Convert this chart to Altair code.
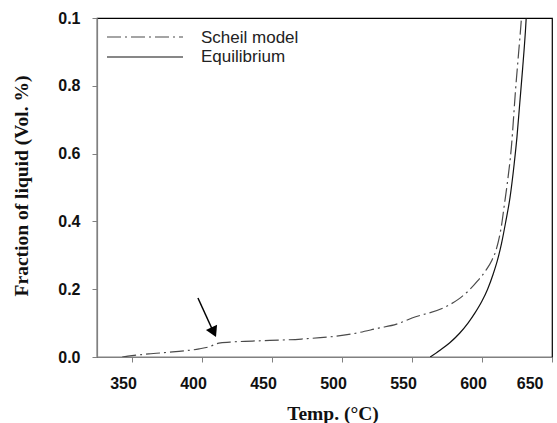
import altair as alt
import pandas as pd

# Liquid fraction vs temperature, Scheil vs equilibrium solidification
scheil_T = [343, 350, 362, 379, 398, 405, 412, 420, 436, 471, 507, 526, 539,
            550, 574, 583, 591, 597, 603, 607, 610, 614, 616, 618, 621, 624,
            626, 628, 629]
scheil_f = [0.0, 0.004, 0.009, 0.015, 0.024, 0.030, 0.041, 0.044, 0.047, 0.053,
            0.068, 0.085, 0.097, 0.115, 0.148, 0.17, 0.198, 0.225, 0.257, 0.285,
            0.315, 0.39, 0.45, 0.51, 0.62, 0.79, 0.89, 0.99, 1.05]

equil_T = [563, 570, 577, 584, 590, 595, 600, 604, 608, 611, 614, 617, 620,
           623, 625, 627, 629, 631, 632]
equil_f = [0.0, 0.02, 0.042, 0.07, 0.10, 0.13, 0.165, 0.20, 0.245, 0.285,
           0.336, 0.40, 0.47, 0.57, 0.65, 0.75, 0.85, 0.96, 1.03]

# arrow marking the kink in the Scheil curve: tail, shaft end, head centre
arrow_T = [397.1, 407.3]
arrow_f = [0.174, 0.082]
head_T = [408.4]
head_f = [0.073]

x_ticks = [350, 400, 450, 500, 550, 600, 650]
y_ticks = [0.0, 0.2, 0.4, 0.6, 0.8, 1.0]

scheil = pd.DataFrame({"T": scheil_T, "f": scheil_f})
equil = pd.DataFrame({"T": equil_T, "f": equil_f})
shaft = pd.DataFrame({"T": [arrow_T[0]], "f": [arrow_f[0]],
                      "T2": [arrow_T[1]], "f2": [arrow_f[1]]})
head = pd.DataFrame({"T": head_T, "f": head_f})

x_scale = alt.Scale(domain=[325, 650], nice=False, zero=False)
y_scale = alt.Scale(domain=[0, 1], nice=False)

x_enc = alt.X("T:Q", scale=x_scale, axis=alt.Axis(
    title="Temp. (°C)", values=x_ticks, format="d", labelOffset=-9,
    titleX=235.5, titleY=62, titleBaseline="alphabetic", titleAnchor="start",
    titleAlign="center"))
y_enc = alt.Y("f:Q", scale=y_scale, axis=alt.Axis(
    title="Fraction of liquid (Vol. %)", values=y_ticks,
    labelExpr="datum.value == 1 ? '0.1' : format(datum.value, '.1f')",
    titleX=-76, titleY=167.5, titleBaseline="middle", titleAlign="center",
    titleAnchor="start"))

scheil_line = alt.Chart(scheil).mark_line(
    color="#4a4a4a", strokeWidth=1.2, strokeDash=[14, 4, 2, 4],
    interpolate="monotone", clip=True
).encode(x=x_enc, y=y_enc)

equil_line = alt.Chart(equil).mark_line(
    color="#111111", strokeWidth=1.2, interpolate="monotone", clip=True
).encode(x="T:Q", y="f:Q")

arrow_shaft = alt.Chart(shaft).mark_rule(color="black", strokeWidth=1.5).encode(
    x="T:Q", y="f:Q", x2="T2:Q", y2="f2:Q")

arrow_head = alt.Chart(head).mark_point(
    shape="triangle-down", angle=335, size=150, filled=True,
    color="black", opacity=1
).encode(x="T:Q", y="f:Q")

# legend drawn inside the plot frame
leg = pd.DataFrame({"k": [0]})
leg_scheil = alt.Chart(leg).mark_rule(
    color="#4a4a4a", strokeWidth=1.2, strokeDash=[14, 4, 2, 4]
).encode(x=alt.value(10), x2=alt.value(86), y=alt.value(19))
leg_equil = alt.Chart(leg).mark_rule(color="#111111", strokeWidth=1.2).encode(
    x=alt.value(10), x2=alt.value(86), y=alt.value(39))
txt_style = dict(align="left", baseline="middle", font="Liberation Sans",
                 fontSize=17, color="#222222")
leg_scheil_txt = alt.Chart(leg).mark_text(text="Scheil model", **txt_style).encode(
    x=alt.value(104), y=alt.value(19.5))
leg_equil_txt = alt.Chart(leg).mark_text(text="Equilibrium", **txt_style).encode(
    x=alt.value(104), y=alt.value(38.5))

chart = alt.layer(
    scheil_line, equil_line, arrow_shaft, arrow_head,
    leg_scheil, leg_equil, leg_scheil_txt, leg_equil_txt
).properties(
    width=455, height=339,
    autosize=alt.AutoSizeParams(type="none"),
    padding={"left": 97, "top": 18, "right": 5, "bottom": 66},
    background="white",
).configure_view(
    stroke="black", strokeWidth=1.2
).configure_axis(
    grid=False, domainColor="#808080", domainWidth=1.2,
    tickColor="#808080", tickSize=5, tickWidth=1,
    labelFont="Liberation Sans", labelFontSize=16, labelFontWeight="bold",
    labelColor="#111111",
    titleFont="Liberation Serif", titleFontSize=19.5, titleFontWeight="bold",
    titleColor="#111111",
).configure_axisX(labelPadding=13).configure_axisY(labelPadding=12)

chart.save("out.html", embed_options={"renderer": "svg", "actions": False})
